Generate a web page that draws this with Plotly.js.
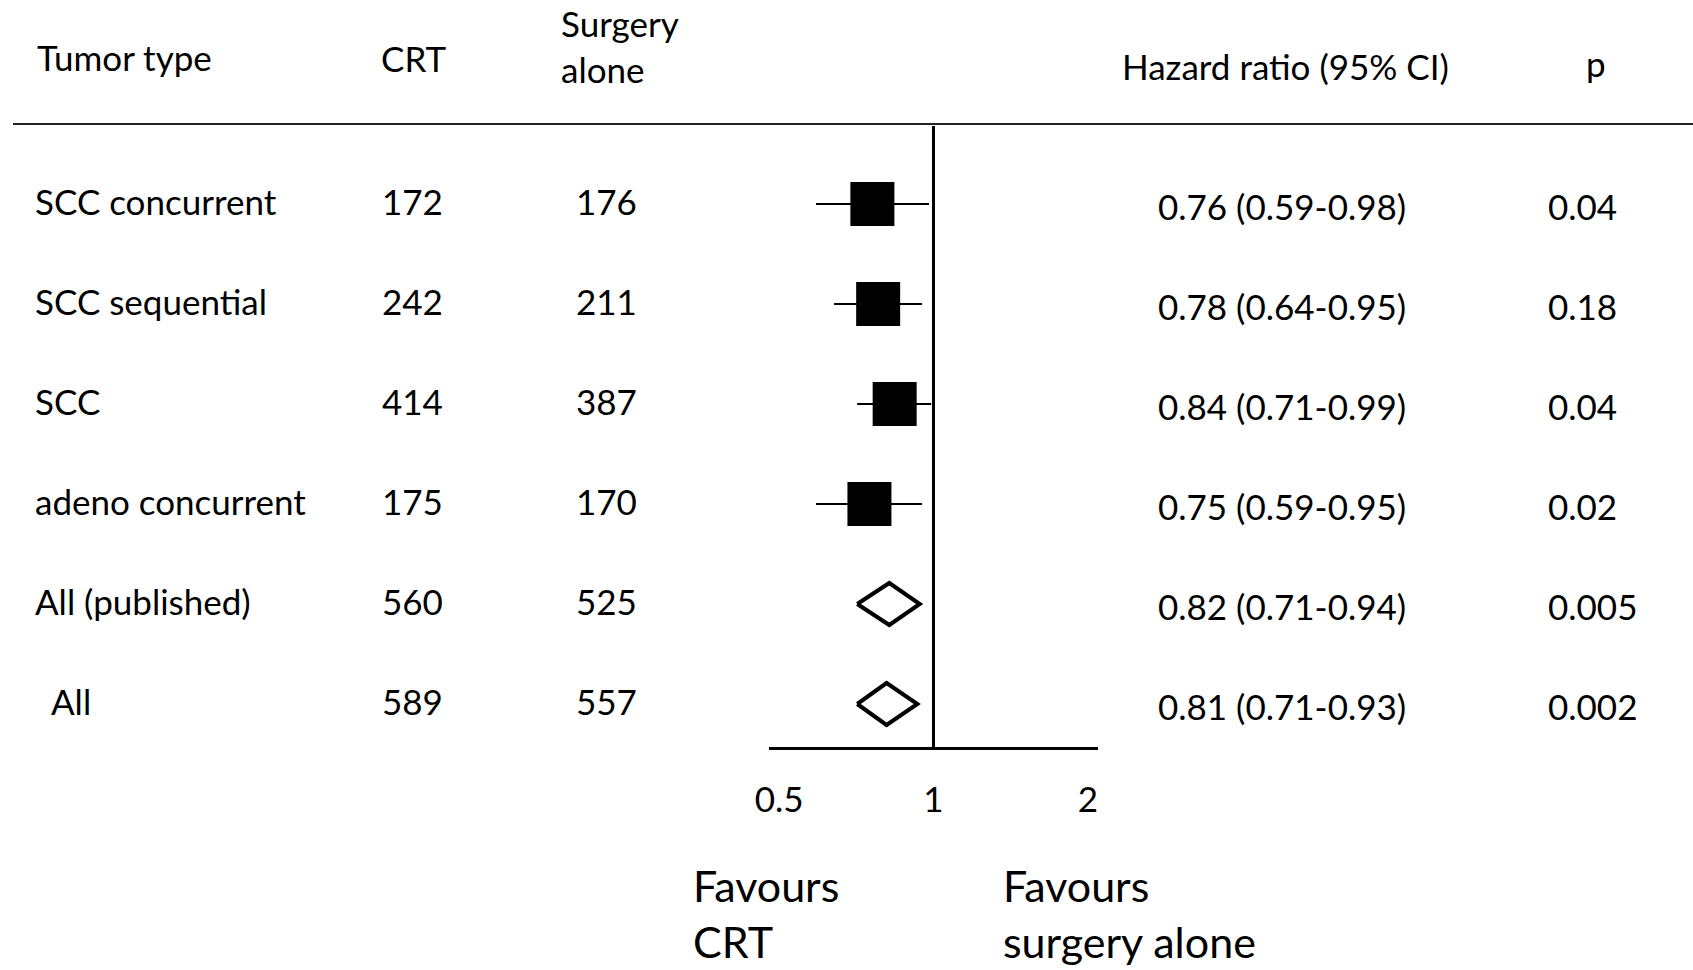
<!DOCTYPE html>
<html><head><meta charset="utf-8">
<script src="https://cdn.plot.ly/plotly-3.0.1.min.js"></script>
<style>html,body{margin:0;padding:0;background:#fff}#chart{width:1693px;height:970px}</style>
</head><body><div id="chart"></div>
<script>
// ---- data ----
const tumorTypes = ['SCC concurrent', 'SCC sequential', 'SCC', 'adeno concurrent', 'All (published)', 'All'];
const crtN = [172, 242, 414, 175, 560, 589];
const surgeryN = [176, 211, 387, 170, 525, 557];
const hazardRatio = [0.76, 0.78, 0.84, 0.75, 0.82, 0.81];
const ciLower = [0.59, 0.64, 0.71, 0.59, 0.71, 0.71];
const ciUpper = [0.98, 0.95, 0.99, 0.95, 0.94, 0.93];
const pValues = ['0.04', '0.18', '0.04', '0.02', '0.005', '0.002'];
const isPooled = [false, false, false, false, true, true];
const xTickVals = [0.5, 1, 2];
const nullEffect = 1;

// ---- layout helpers ----
const W = 1693, H = 970;
const FONT = 'Lato, "Open Sans", sans-serif';
const BODY = 35, BIG = 43;
const INK = '#000';
const px = x => x / W;
const py = y => 1 - y / H;
const plotTop = 126, plotBottom = 747;
const rows = tumorTypes.map((_, i) => i);

const traces = [];
const studyIdx = rows.filter(i => !isPooled[i]);
traces.push({
  type: 'scatter', mode: 'markers',
  x: studyIdx.map(i => hazardRatio[i]),
  y: studyIdx.map(i => rows[i]),
  marker: {symbol: 'square', size: 44, color: '#000'},
  error_x: {
    type: 'data', symmetric: false,
    array: studyIdx.map(i => ciUpper[i] - hazardRatio[i]),
    arrayminus: studyIdx.map(i => hazardRatio[i] - ciLower[i]),
    color: '#000', thickness: 2.2, width: 0
  },
  hoverinfo: 'skip'
});
const dh = 0.21;
rows.filter(i => isPooled[i]).forEach(i => {
  traces.push({
    type: 'scatter', mode: 'lines',
    x: [ciLower[i], hazardRatio[i], ciUpper[i], hazardRatio[i], ciLower[i]],
    y: [rows[i], rows[i] - dh, rows[i], rows[i] + dh, rows[i]],
    fill: 'toself', fillcolor: '#fff',
    line: {color: '#000', width: 4},
    hoverinfo: 'skip'
  });
});

const annotations = [];
function ann(text, x, y, o) {
  annotations.push(Object.assign({
    text, x, y, xref: 'paper', yref: 'paper', showarrow: false,
    xanchor: 'left', yanchor: 'middle', align: 'left',
    font: {family: FONT, size: BODY, color: INK}
  }, o || {}));
}
// headers
ann('Tumor type', px(35), py(57));
ann('CRT', px(413), py(58), {xanchor: 'center'});
ann('Surgery<br>alone', px(559), py(46));
ann('Hazard ratio (95% CI)', px(1285), py(66), {xanchor: 'center'});
ann('p', px(1596), py(63), {xanchor: 'center'});
// rows
const labelIndent = [0, 0, 0, 0, 0, 16];
rows.forEach(i => {
  ann(tumorTypes[i], px(33), rows[i], {yref: 'y', xshift: labelIndent[i], yshift: 3});
  ann(String(crtN[i]), px(412), rows[i], {yref: 'y', xanchor: 'center', yshift: 3});
  ann(String(surgeryN[i]), px(606), rows[i], {yref: 'y', xanchor: 'center', yshift: 3});
  ann(`${hazardRatio[i].toFixed(2)} (${ciLower[i].toFixed(2)}-${ciUpper[i].toFixed(2)})`,
      px(1282), rows[i], {yref: 'y', xanchor: 'center', yshift: -2});
  ann(pValues[i], px(1546), rows[i], {yref: 'y', yshift: -2});
});
// favours
ann('Favours<br>CRT', px(691), py(913), {font: {family: FONT, size: BIG, color: INK}});
ann('Favours<br>surgery alone', px(1001), py(913), {font: {family: FONT, size: BIG, color: INK}});

const lr = Math.log10(2.093);
const layout = {
  width: W, height: H,
  margin: {l: 0, r: 0, t: 0, b: 0},
  paper_bgcolor: '#fff', plot_bgcolor: 'rgba(0,0,0,0)',
  showlegend: false,
  xaxis: {
    type: 'log', range: [-lr, lr],
    domain: [px(769), px(1098)],
    tickvals: xTickVals, ticktext: xTickVals.map(String),
    ticks: '', showgrid: false, zeroline: false,
    showline: true, linecolor: '#000', linewidth: 2.5,
    tickfont: {family: FONT, size: BODY, color: INK},
    ticklabelstandoff: 20,
    fixedrange: true
  },
  yaxis: {
    range: [(plotBottom - 204) / 100, (plotTop - 204) / 100],
    domain: [py(plotBottom), py(plotTop)],
    visible: false, showgrid: false, zeroline: false, fixedrange: true
  },
  shapes: [
    {type: 'line', xref: 'paper', yref: 'paper', x0: px(13), x1: 1, y0: py(124), y1: py(124),
     line: {color: '#222', width: 2}},
    {type: 'line', xref: 'x', yref: 'paper', x0: nullEffect, x1: nullEffect,
     y0: py(plotBottom), y1: py(plotTop), line: {color: '#000', width: 3}, layer: 'below'}
  ],
  annotations
};
Plotly.newPlot('chart', traces, layout, {displayModeBar: false, staticPlot: true});
</script>
</body></html>
